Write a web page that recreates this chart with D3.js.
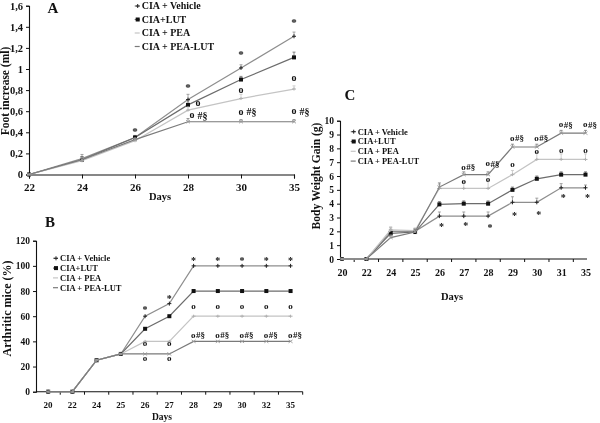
<!DOCTYPE html>
<html><head><meta charset="utf-8">
<script src="https://cdn.jsdelivr.net/npm/d3@7/dist/d3.min.js"></script>
<style>
body{margin:0;background:#fff;}
#chart{filter:grayscale(1);}
svg text{font-family:"Liberation Serif","Times New Roman",serif;font-weight:bold;fill:#111;}
</style></head><body>
<svg id="chart" width="600" height="423"></svg>
<script>
// ---------- DATA ----------
const seriesNames = ["CIA + Vehicle", "CIA+LUT", "CIA + PEA", "CIA + PEA-LUT"];

// Panel A: Foot increase (ml)
const aDays = ["22", "24", "26", "28", "30", "35"];
const aVehicle = [0, 0.15, 0.35, 0.71, 1.01, 1.31];
const aLUT     = [0, 0.14, 0.35, 0.66, 0.90, 1.11];
const aPEA     = [0, 0.13, 0.32, 0.61, 0.72, 0.81];
const aPEALUT  = [0, 0.14, 0.33, 0.50, 0.50, 0.50];
const aErrVehicle = [0, 0.04, 0.02, 0.05, 0.03, 0.04];
const aErrLUT     = [0, 0.03, 0.02, 0.04, 0.03, 0.05];
const aErrPEA     = [0, 0.03, 0.02, 0.03, 0.04, 0.03];
const aErrPEALUT  = [0, 0.03, 0.02, 0.03, 0.02, 0.02];
const aYTicks = [0, 0.2, 0.4, 0.6, 0.8, 1.0, 1.2, 1.4, 1.6];
const aStars = [["26", 0.43], ["28", 0.84], ["30", 1.16], ["35", 1.46]];
const aCircles = [["28", 0.675], ["30", 0.80], ["35", 0.91]];
const aCircleHash = [["28", 0.557], ["30", 0.59], ["35", 0.595]];

// Panel B: Arthritic mice (%)
const bDays = ["20", "22", "24", "25", "26", "27", "28", "29", "30", "32", "35"];
const bVehicle = [0, 0, 25, 30, 60, 70, 100, 100, 100, 100, 100];
const bLUT     = [0, 0, 25, 30, 50, 60, 80, 80, 80, 80, 80];
const bPEA     = [0, 0, 25, 30, 40, 40, 60, 60, 60, 60, 60];
const bPEALUT  = [0, 0, 25, 30, 30, 30, 40, 40, 40, 40, 40];
const bYTicks = [0, 20, 40, 60, 80, 100, 120];
const bStars = [["26", 66.3], ["27", 75.5], ["28", 105.5], ["29", 105.5], ["30", 105.5], ["32", 105.5], ["35", 105.5]];
const bCircles = [["26", 38.5], ["27", 38.5], ["26", 26.5], ["27", 26.5], ["28", 67.6], ["29", 67.6], ["30", 67.6], ["32", 67.6], ["35", 67.6]];
const bCircleHash = [["28", 44.5], ["29", 44.5], ["30", 44.5], ["32", 44.5], ["35", 44.5]];

// Panel C: Body Weight Gain (g)
const cDays = ["20", "22", "24", "25", "26", "27", "28", "29", "30", "31", "35"];
const cVehicle = [0, 0, 2.0, 2.0, 3.1, 3.1, 3.1, 4.1, 4.1, 5.15, 5.15];
const cLUT     = [0, 0, 1.85, 1.95, 3.95, 4.0, 4.0, 5.0, 5.8, 6.1, 6.1];
const cPEA     = [0, 0, 2.1, 2.05, 5.1, 5.1, 5.1, 6.1, 7.2, 7.2, 7.2];
const cPEALUT  = [0, 0, 1.55, 1.95, 5.2, 6.1, 6.1, 8.1, 8.1, 9.1, 9.1];
const cErrVehicle = [0, 0, 0.3, 0.2, 0.3, 0.3, 0.3, 0.4, 0.3, 0.3, 0.2];
const cErrLUT     = [0, 0, 0.3, 0.2, 0.2, 0.2, 0.2, 0.2, 0.2, 0.2, 0.2];
const cErrPEA     = [0, 0, 0.2, 0.2, 0.3, 0.5, 0.6, 0.3, 0.5, 0.4, 0.4];
const cErrPEALUT  = [0, 0, 0.2, 0.2, 0.3, 0.2, 0.2, 0.2, 0.2, 0.2, 0.2];
const cYTicks = [0, 1, 2, 3, 4, 5, 6, 7, 8, 9, 10];
const cStars = [["26", 2.46], ["27", 2.53], ["28", 2.41], ["29", 3.25], ["30", 3.35], ["31", 4.56], ["35", 4.56]];
const cCircles = [["27", 5.59], ["28", 5.76], ["29", 6.8], ["30", 7.76], ["31", 7.83], ["35", 7.81]];
const cCircleHash = [["27", 6.6], ["28", 6.87], ["29", 8.73], ["30", 8.73], ["31", 9.69], ["35", 9.69]];

// ---------- STYLE ----------
const colors = ["#8e8e8e", "#6c6c6c", "#c4c4c4", "#7a7a7a"];
const markerTypes = ["plus", "square", "dash", "cross"];
const root = d3.select("#chart").append("g");
root.append("rect").attr("width", 600).attr("height", 423).attr("fill", "#fff");

function marker(g, type, x, y, color) {
  if (type === "square") {
    g.append("rect").attr("x", x - 2).attr("y", y - 2).attr("width", 4).attr("height", 4).attr("fill", "#111");
  } else if (type === "plus") {
    g.append("path").attr("d", `M${x-2},${y}H${x+2}M${x},${y-2}V${y+2}`).attr("stroke", "#222").attr("stroke-width", 1);
  } else if (type === "dash") {
    g.append("path").attr("d", `M${x-2},${y}H${x+2}M${x},${y-1.5}V${y+1.5}`).attr("stroke", "#b0b0b0").attr("stroke-width", 1);
  } else {
    g.append("path").attr("d", `M${x-2},${y-1.5}L${x+2},${y+1.5}M${x-2},${y+1.5}L${x+2},${y-1.5}`).attr("stroke", "#999").attr("stroke-width", 0.9);
  }
}

function drawSeries(g, cats, xpos, y, data, errs) {
  data.forEach((vals, si) => {
    const pts = cats.map((c, i) => [xpos(c), y(vals[i]), vals[i], errs ? errs[si][i] : 0]);
    g.append("path").datum(pts)
      .attr("d", d3.line().x(d => d[0]).y(d => d[1]))
      .attr("fill", "none").attr("stroke", colors[si]).attr("stroke-width", 1.2);
    if (errs) {
      pts.forEach(p => {
        if (p[3] > 0) {
          const yt = y(p[2] + p[3]);
          g.append("path").attr("d", `M${p[0]},${p[1]}V${yt}M${p[0]-1.5},${yt}H${p[0]+1.5}`)
            .attr("stroke", colors[si]).attr("stroke-width", 0.8).attr("fill", "none");
        }
      });
    }
    pts.forEach(p => marker(g, markerTypes[si], p[0], p[1], colors[si]));
  });
}

function legend(g, x0, ys, fs) {
  seriesNames.forEach((n, i) => {
    g.append("line").attr("x1", x0 - 7).attr("x2", x0 - 2).attr("y1", ys[i]).attr("y2", ys[i])
      .attr("stroke", colors[i]).attr("stroke-width", 1.2);
    if (i < 2) marker(g, markerTypes[i], x0 - 4, ys[i], colors[i]);
    g.append("text").attr("x", x0).attr("y", ys[i]).attr("dy", "0.33em").attr("font-size", fs).text(n);
  });
}

function annotations(g, xpos, y, stars, circles, hashes, fs, dxStar, hashSep) {
  stars.forEach(s => g.append("text").attr("x", xpos(s[0]) + dxStar).attr("y", y(s[1])).attr("dy", "0.5em")
    .attr("text-anchor", "middle").attr("font-size", fs + 1).text("*"));
  circles.forEach(s => g.append("text").attr("x", xpos(s[0])).attr("y", y(s[1])).attr("dy", "0.25em")
    .attr("text-anchor", "middle").attr("font-size", fs).attr("font-weight", "normal").text("o"));
  hashes.forEach(s => {
    const t = g.append("text").attr("x", xpos(s[0]) - 2.5).attr("y", y(s[1])).attr("dy", "0.25em")
      .attr("font-size", fs).attr("font-weight", "normal");
    t.append("tspan").text("o");
    t.append("tspan").attr("dx", hashSep).attr("dy", "0.05em").text("#§");
  });
}

function styleAxis(ax, fs) {
  ax.select(".domain").attr("stroke", "#111").attr("stroke-width", 1.1);
  ax.selectAll(".tick line").attr("stroke", "#111").attr("stroke-width", 1);
  ax.selectAll("text").attr("font-size", fs).attr("fill", "#111");
}

const commaFmt = v => v === 0 ? "0" : (Math.round(v * 10) / 10).toString().replace(".", ",");

// ---------- PANEL A ----------
{
  const g = root.append("g");
  const x = d3.scalePoint().domain(aDays).range([29, 294]);
  const y = d3.scaleLinear().domain([0, 1.6]).range([174.5, 5.7]);
  const xpos = c => x(c);
  const ay = g.append("g").attr("transform", "translate(29,0)")
    .call(d3.axisLeft(y).tickValues(aYTicks).tickSize(3).tickPadding(3).tickFormat(commaFmt));
  styleAxis(ay, 10.5);
  const ax = g.append("g").attr("transform", "translate(0,174.5)")
    .call(d3.axisBottom(x).tickSize(4).tickPadding(4.5));
  styleAxis(ax, 11);
  drawSeries(g, aDays, xpos, y, [aVehicle, aLUT, aPEA, aPEALUT],
    [aErrVehicle, aErrLUT, aErrPEA, aErrPEALUT]);
  const shift = {"28": 10};
  annotations(g, c => xpos(c), y, aStars, [], [], 10, 0, 3);
  aCircles.forEach(s => g.append("text").attr("x", xpos(s[0]) + (shift[s[0]] || 0)).attr("y", y(s[1])).attr("dy", "0.25em")
    .attr("text-anchor", "middle").attr("font-size", 10).attr("font-weight", "normal").text("o"));
  annotations(g, c => xpos(c) + (c === "28" ? 4 : 0), y, [], [], aCircleHash, 10, 0, 3);
  g.append("text").attr("x", 160).attr("y", 200).attr("text-anchor", "middle").attr("font-size", 10.5).text("Days");
  g.append("text").attr("transform", "translate(9,91) rotate(-90)").attr("text-anchor", "middle")
    .attr("font-size", 11.5).text("Foot increase (ml)");
  g.append("text").attr("x", 53).attr("y", 13).attr("text-anchor", "middle").attr("font-size", 15).text("A");
  legend(g, 141.7, [6, 19.5, 33, 46.5], 10);
}

// ---------- PANEL B ----------
{
  const g = root.append("g");
  const x = d3.scaleBand().domain(bDays).range([36, 302.7]);
  const y = d3.scaleLinear().domain([0, 120]).range([391.7, 240.7]);
  const xpos = c => x(c) + x.bandwidth() / 2;
  const ay = g.append("g").attr("transform", "translate(36,0)")
    .call(d3.axisLeft(y).tickValues(bYTicks).tickSize(3).tickPadding(3));
  styleAxis(ay, 9.5);
  const ax = g.append("g").attr("transform", "translate(0,391.7)")
    .call(d3.axisBottom(x).tickSize(0).tickPadding(10));
  styleAxis(ax, 9);
  ax.select(".domain").attr("d", `M36,0H302.7`);
  bDays.forEach(c => g.append("line").attr("x1", x(c) + x.bandwidth()).attr("x2", x(c) + x.bandwidth())
    .attr("y1", 391.7).attr("y2", 394.7).attr("stroke", "#111"));
  drawSeries(g, bDays, xpos, y, [bVehicle, bLUT, bPEA, bPEALUT], null);
  annotations(g, xpos, y, bStars, bCircles, bCircleHash, 9, 0, 0.5);
  g.append("text").attr("x", 162).attr("y", 420).attr("text-anchor", "middle").attr("font-size", 9.5).text("Days");
  g.append("text").attr("transform", "translate(11,308.5) rotate(-90)").attr("text-anchor", "middle")
    .attr("font-size", 12).text("Arthritic mice (%)");
  g.append("text").attr("x", 50).attr("y", 227).attr("text-anchor", "middle").attr("font-size", 15).text("B");
  legend(g, 60, [258.3, 268.1, 277.9, 287.7], 8.5);
}

// ---------- PANEL C ----------
{
  const g = root.append("g");
  const x = d3.scalePoint().domain(cDays).range([342, 585.5]);
  const y = d3.scaleLinear().domain([0, 10]).range([259, 120.7]);
  const xpos = c => x(c);
  const ay = g.append("g").attr("transform", "translate(340,0)")
    .call(d3.axisLeft(y).tickValues(cYTicks).tickSize(3).tickPadding(3));
  styleAxis(ay, 9.5);
  const ax = g.append("g").attr("transform", "translate(0,259)")
    .call(d3.axisBottom(x).tickSize(0).tickPadding(9.5));
  styleAxis(ax, 10);
  ax.select(".domain").attr("d", `M340,0H587`);
  cDays.slice(1).forEach((c, i) => {
    const xm = (x(c) + x(cDays[i])) / 2;
    g.append("line").attr("x1", xm).attr("x2", xm).attr("y1", 259).attr("y2", 262).attr("stroke", "#111");
  });
  drawSeries(g, cDays, xpos, y, [cVehicle, cLUT, cPEA, cPEALUT],
    [cErrVehicle, cErrLUT, cErrPEA, cErrPEALUT]);
  annotations(g, xpos, y, cStars, cCircles, cCircleHash, 9, 2, 0.5);
  g.append("text").attr("x", 452).attr("y", 299.5).attr("text-anchor", "middle").attr("font-size", 10.5).text("Days");
  g.append("text").attr("transform", "translate(319.5,176) rotate(-90)").attr("text-anchor", "middle")
    .attr("font-size", 11.5).text("Body Weight Gain (g)");
  g.append("text").attr("x", 350).attr("y", 100).attr("text-anchor", "middle").attr("font-size", 15).text("C");
  legend(g, 357.7, [131.7, 141.5, 151.3, 161.1], 8.5);
}
</script>
</body></html>
